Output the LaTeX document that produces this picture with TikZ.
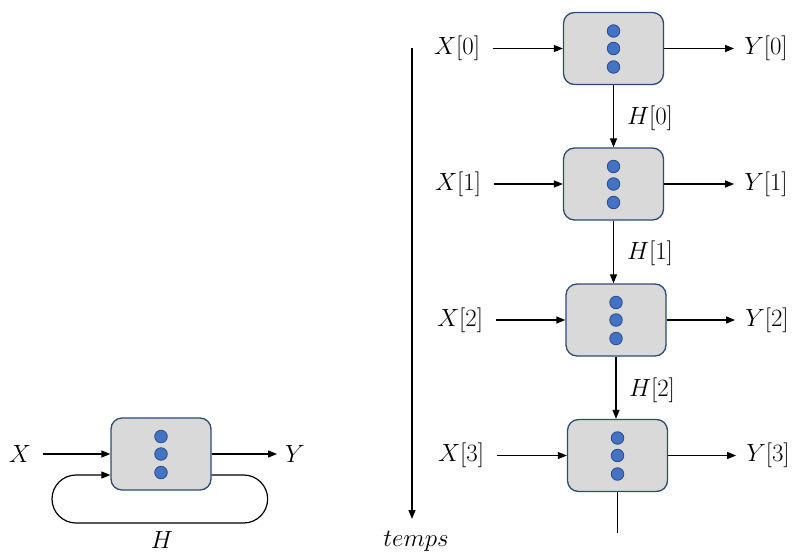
\documentclass[tikz,border=0pt]{standalone}
\usetikzlibrary{arrows.meta}
\definecolor{boxfill}{HTML}{D9D9D9}
\definecolor{boxline}{HTML}{2E4A73}
\definecolor{dotfill}{HTML}{4472C4}
\definecolor{dotline}{HTML}{2F528F}
\begin{document}
\begin{tikzpicture}[x=1pt,y=-1pt,
  cell/.style={draw=boxline,fill=boxfill,line width=1.3pt,rounded corners=11pt,
    minimum width=100pt,minimum height=72pt,inner sep=0pt},
  lab/.style={font=\fontsize{24.5}{28}\selectfont,inner sep=0pt},
  arr/.style={line width=1.2pt,-{Triangle[length=9pt,width=7pt]}},
  ln/.style={line width=1.2pt},
  dot/.style={circle,draw=dotline,fill=dotfill,line width=0.9pt,minimum size=12.5pt,inner sep=0pt}]
\useasboundingbox (0,0) rectangle (794,554);
% unrolled cells
\node[cell] (b0) at (613.5,48.5) {};
\node[cell] (b1) at (613.5,184) {};
\node[cell] (b2) at (616,320) {};
\node[cell] (b3) at (617.5,455.5) {};
\node[cell] (L) at (161,454) {};
\foreach \b in {b0,b1,b2,b3,L}{
  \node[dot] (\b d1) at ([yshift=17.5pt]\b.center) {};
  \node[dot] (\b d2) at (\b.center) {};
  \node[dot] (\b d3) at ([yshift=-18.5pt]\b.center) {};
}
% labels
\node[lab] (x0) at (457,48) {$X[0]$};
\node[lab] (x1) at (458,184) {$X[1]$};
\node[lab] (x2) at (460,320) {$X[2]$};
\node[lab] (x3) at (461,455) {$X[3]$};
\node[lab] (y0) at (766,48) {$Y[0]$};
\node[lab] (y1) at (766,184) {$Y[1]$};
\node[lab] (y2) at (767,320) {$Y[2]$};
\node[lab] (y3) at (768,455) {$Y[3]$};
\node[lab] (h0) at (650,118) {$H[0]$};
\node[lab] (h1) at (650,253) {$H[1]$};
\node[lab] (h2) at (652,390) {$H[2]$};
\node[lab] (X) at (20,454) {$X$};
\node[lab] (Y) at (295,454) {$Y$};
\node[lab] (H) at (162,540) {$H$};
\node[lab] (temps) at (416,541) {$temps$};
% inputs / outputs
\foreach \i in {0,1,2,3}{
  \draw[arr] ([xshift=13pt]x\i.east |- b\i.west) -- (b\i.west);
  \draw[arr] (b\i.east) -- ([xshift=-10pt]y\i.west |- b\i.east);
}
% hidden state arrows
\draw[arr] (b0.south) -- (b0.south |- b1.north);
\draw[arr] (b1.south) -- (b1.south |- b2.north);
\draw[arr] (b2.south) -- (b2.south |- b3.north);
\coordinate (bend) at (b3.south |- 0,533);
\draw[ln] (b3.south) -- (bend);
% time axis
\coordinate (t0) at (412,48);
\coordinate (t1) at (412,519);
\draw[arr] (t0) -- (t1);
% folded cell
\draw[arr] ([xshift=12pt]X.east |- L.west) -- (L.west);
\draw[arr] (L.east) -- ([xshift=-8pt]Y.west |- L.east);
\draw[arr,rounded corners=24pt] ([yshift=-21pt]L.east) -- ++(56,0) -- ++(0,48) -- (52,523) -- (52,475) -- ([yshift=-21pt]L.west);
\end{tikzpicture}
\end{document}
